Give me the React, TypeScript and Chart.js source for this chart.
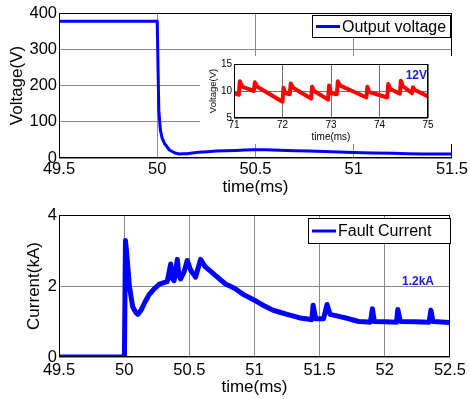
import React, { useEffect, useRef } from 'react';
import { Chart, registerables } from 'chart.js';
Chart.register(...registerables);

const FONT = '"Liberation Sans", Arial, Helvetica, sans-serif';

// ---- Top plot: output voltage ----
const voltageTime = [49.5, 50.0, 50.004, 50.008, 50.016, 50.025, 50.037, 50.062, 50.09, 50.113, 50.15, 50.21, 50.3, 50.4, 50.49, 50.55, 50.7, 50.85, 51.0, 51.2, 51.35, 51.5];
const voltageValues = [377, 377, 250, 132, 77, 55, 40, 22, 14, 11, 12, 16, 19, 21, 23, 23, 20, 18, 15, 13, 11, 11];
const voltageLabel = 'Output voltage';

// ---- Inset: 12V output ----
const insetTime = [71.0, 71.1, 71.12, 71.17, 71.41, 71.43, 71.48, 72.0, 72.02, 72.06, 72.15, 72.17, 72.22, 72.59, 72.61, 72.65, 72.94, 72.96, 73.0, 73.12, 73.14, 73.19, 73.73, 73.75, 73.79, 74.16, 74.18, 74.22, 74.42, 74.44, 74.48, 74.67, 74.69, 74.73, 75.0];
const insetValues = [9.6, 9.3, 11.8, 10.8, 10.0, 11.6, 10.8, 8.0, 10.6, 9.6, 9.4, 11.4, 10.6, 8.6, 10.8, 10.0, 8.4, 11.0, 9.6, 9.4, 11.8, 11.0, 8.8, 10.8, 9.8, 8.8, 11.3, 10.4, 9.5, 11.9, 10.9, 9.6, 10.7, 10.2, 9.0];
const insetNote = '12V';

// ---- Bottom plot: fault current ----
const currentTime = [49.5, 50.0, 50.002, 50.01, 50.02, 50.04, 50.065, 50.09, 50.105, 50.13, 50.16, 50.19, 50.23, 50.27, 50.33, 50.357, 50.37, 50.383, 50.408, 50.42, 50.433, 50.46, 50.484, 50.51, 50.548, 50.586, 50.62, 50.7, 50.78, 50.85, 50.92, 51.0, 51.07, 51.14, 51.25, 51.35, 51.44, 51.45, 51.47, 51.53, 51.557, 51.58, 51.7, 51.8, 51.89, 51.905, 51.92, 52.09, 52.1, 52.12, 52.34, 52.354, 52.37, 52.5];
const currentValues = [0, 0, 0, 3.28, 2.9, 2.0, 1.42, 1.25, 1.2, 1.32, 1.55, 1.75, 1.92, 2.05, 2.12, 2.62, 2.2, 2.15, 2.75, 2.3, 2.2, 2.4, 2.72, 2.45, 2.25, 2.75, 2.55, 2.3, 2.05, 1.93, 1.75, 1.6, 1.45, 1.32, 1.2, 1.1, 1.05, 1.46, 1.08, 1.08, 1.48, 1.2, 1.1, 1.0, 0.98, 1.36, 1.0, 0.98, 1.34, 1.0, 0.98, 1.32, 1.0, 0.97];
const currentLabel = 'Fault Current';
const currentNote = '1.2kA';

const GRID = '#8c8c8c';

function toPoints(xs: number[], ys: number[]) {
  return xs.map((x, i) => ({ x, y: ys[i] }));
}

const fmt = (v: any) => String(Number(Number(v).toFixed(3)));

const boxPlugin = {
  id: 'axesBox',
  afterDatasetsDraw(chart: any) {
    const { ctx, chartArea } = chart;
    const l = Math.round(chartArea.left) + 0.5;
    const t = Math.round(chartArea.top) + 0.5;
    const r = Math.round(chartArea.right) - 0.5;
    const b = Math.round(chartArea.bottom) - 0.5;
    ctx.save();
    ctx.strokeStyle = '#000';
    ctx.lineWidth = 1;
    ctx.strokeRect(l, t, r - l, b - t);
    ctx.restore();
  },
};

function legendPlugin(text: string, x: number, y: number, w: number, h: number) {
  return {
    id: 'boxLegend',
    afterDraw(chart: any) {
      const ctx = chart.ctx;
      ctx.save();
      ctx.fillStyle = '#fff';
      ctx.fillRect(x, y, w, h);
      ctx.strokeStyle = '#000';
      ctx.lineWidth = 1;
      ctx.strokeRect(x + 0.5, y + 0.5, w, h);
      const cy = y + h / 2 + 0.5;
      ctx.strokeStyle = '#0000ff';
      ctx.lineWidth = 3;
      ctx.beginPath();
      ctx.moveTo(x + 4, cy);
      ctx.lineTo(x + 28, cy);
      ctx.stroke();
      ctx.fillStyle = '#000';
      ctx.font = `16px ${FONT}`;
      ctx.textAlign = 'left';
      ctx.textBaseline = 'middle';
      ctx.fillText(text, x + 30, cy + 1);
      ctx.restore();
    },
  };
}

function notePlugin(text: string, xv: number, yv: number, size: number) {
  return {
    id: 'note',
    afterDatasetsDraw(chart: any) {
      const ctx = chart.ctx;
      const px = chart.scales.x.getPixelForValue(xv);
      const py = chart.scales.y.getPixelForValue(yv);
      ctx.save();
      ctx.fillStyle = '#1a1aee';
      ctx.font = `bold ${size}px ${FONT}`;
      ctx.textAlign = 'center';
      ctx.textBaseline = 'middle';
      ctx.fillText(text, px, py);
      ctx.restore();
    },
  };
}

function axis(min: number, max: number, step: number, title: string, o: any) {
  return {
    type: 'linear',
    min,
    max,
    ticks: {
      stepSize: step,
      autoSkip: false,
      maxRotation: 0,
      color: '#000',
      padding: o.tickPad,
      font: { family: FONT, size: o.tickSize },
      callback: fmt,
    },
    grid: { color: o.gridColor || GRID, lineWidth: 1, drawTicks: false },
    border: { display: false },
    title: {
      display: true,
      text: title,
      color: '#000',
      font: { family: FONT, size: o.titleSize, lineHeight: 1.2 },
      padding: o.titlePad,
    },
    afterFit(s: any) {
      if (o.height !== undefined) s.height = o.height;
      if (o.width !== undefined) s.width = o.width;
    },
  };
}

const baseOpts = {
  responsive: false,
  animation: false,
  events: [],
  plugins: { legend: { display: false }, tooltip: { enabled: false }, title: { display: false } },
  elements: { point: { radius: 0 }, line: { tension: 0 } },
};

export default function App() {
  const topRef = useRef<HTMLCanvasElement>(null);
  const botRef = useRef<HTMLCanvasElement>(null);
  const insetRef = useRef<HTMLCanvasElement>(null);

  useEffect(() => {
    const charts: Chart[] = [];

    charts.push(
      new Chart(topRef.current as HTMLCanvasElement, {
        type: 'line',
        data: {
          datasets: [
            {
              label: voltageLabel,
              data: toPoints(voltageTime, voltageValues),
              borderColor: '#0000ff',
              borderWidth: 3,
              pointRadius: 0,
              tension: 0.001,
              borderJoinStyle: 'round',
              borderCapStyle: 'round',
            },
          ],
        },
        options: {
          ...baseOpts,
          layout: { padding: { top: 13, right: 17, left: 0, bottom: 0 } },
          scales: {
            x: axis(49.5, 51.5, 0.5, 'time(ms)', { tickSize: 16.5, tickPad: 2, titleSize: 17, titlePad: { top: 0, bottom: 2 }, height: 42 }),
            y: axis(0, 400, 100, 'Voltage(V)', { tickSize: 16.5, tickPad: 2, titleSize: 17, titlePad: { top: 7, bottom: 0 }, width: 59 }),
          },
        } as any,
        plugins: [boxPlugin, legendPlugin(voltageLabel, 312, 15, 138, 22)],
      })
    );

    charts.push(
      new Chart(botRef.current as HTMLCanvasElement, {
        type: 'line',
        data: {
          datasets: [
            {
              label: currentLabel,
              data: toPoints(currentTime, currentValues),
              borderColor: '#0000ff',
              borderWidth: 5,
              pointRadius: 0,
              tension: 0.001,
              borderJoinStyle: 'round',
              borderCapStyle: 'round',
            },
          ],
        },
        options: {
          ...baseOpts,
          layout: { padding: { top: 15, right: 17, left: 0, bottom: 0 } },
          scales: {
            x: axis(49.5, 52.5, 0.5, 'time(ms)', { tickSize: 16.5, tickPad: 4, titleSize: 17, titlePad: { top: 0, bottom: 1 }, height: 42 }),
            y: axis(0, 4, 2, 'Current(kA)', { tickSize: 16.5, tickPad: 2, titleSize: 17, titlePad: { top: 24, bottom: 0 }, width: 59 }),
          },
        } as any,
        plugins: [boxPlugin, notePlugin(currentNote, 52.255, 2.11, 12), legendPlugin(currentLabel, 308, 18, 142, 25)],
      })
    );

    charts.push(
      new Chart(insetRef.current as HTMLCanvasElement, {
        type: 'line',
        data: {
          datasets: [
            {
              label: insetNote,
              data: toPoints(insetTime, insetValues),
              borderColor: '#ff0000',
              borderWidth: 4,
              pointRadius: 0,
              tension: 0.001,
              borderJoinStyle: 'round',
              borderCapStyle: 'butt',
            },
          ],
        },
        options: {
          ...baseOpts,
          layout: { padding: { top: 7, right: 25, left: 0, bottom: 0 } },
          scales: {
            x: axis(71, 75, 1, 'time(ms)', { tickSize: 10, tickPad: 1, titleSize: 10, titlePad: { top: 0, bottom: 1 }, height: 26, gridColor: '#707070' }),
            y: axis(5, 15, 5, 'Voltage(V)', { tickSize: 10, tickPad: 2, titleSize: 9.5, titlePad: { top: 8, bottom: 0 }, width: 34, gridColor: '#707070' }),
          },
        } as any,
        plugins: [boxPlugin, notePlugin(insetNote, 74.76, 12.8, 12)],
      })
    );

    return () => charts.forEach((c) => c.destroy());
  }, []);

  return (
    <div style={{ position: 'fixed', left: 0, top: 0, width: 470, height: 399, background: '#fff', overflow: 'hidden' }}>
      <canvas ref={topRef} width={470} height={200} style={{ position: 'absolute', left: 0, top: 0, width: 470, height: 200 }} />
      <canvas ref={botRef} width={470} height={199} style={{ position: 'absolute', left: 0, top: 200, width: 470, height: 199 }} />
      <canvas ref={insetRef} width={253} height={88} style={{ position: 'absolute', left: 200, top: 56, width: 253, height: 88, background: '#fff' }} />
    </div>
  );
}
